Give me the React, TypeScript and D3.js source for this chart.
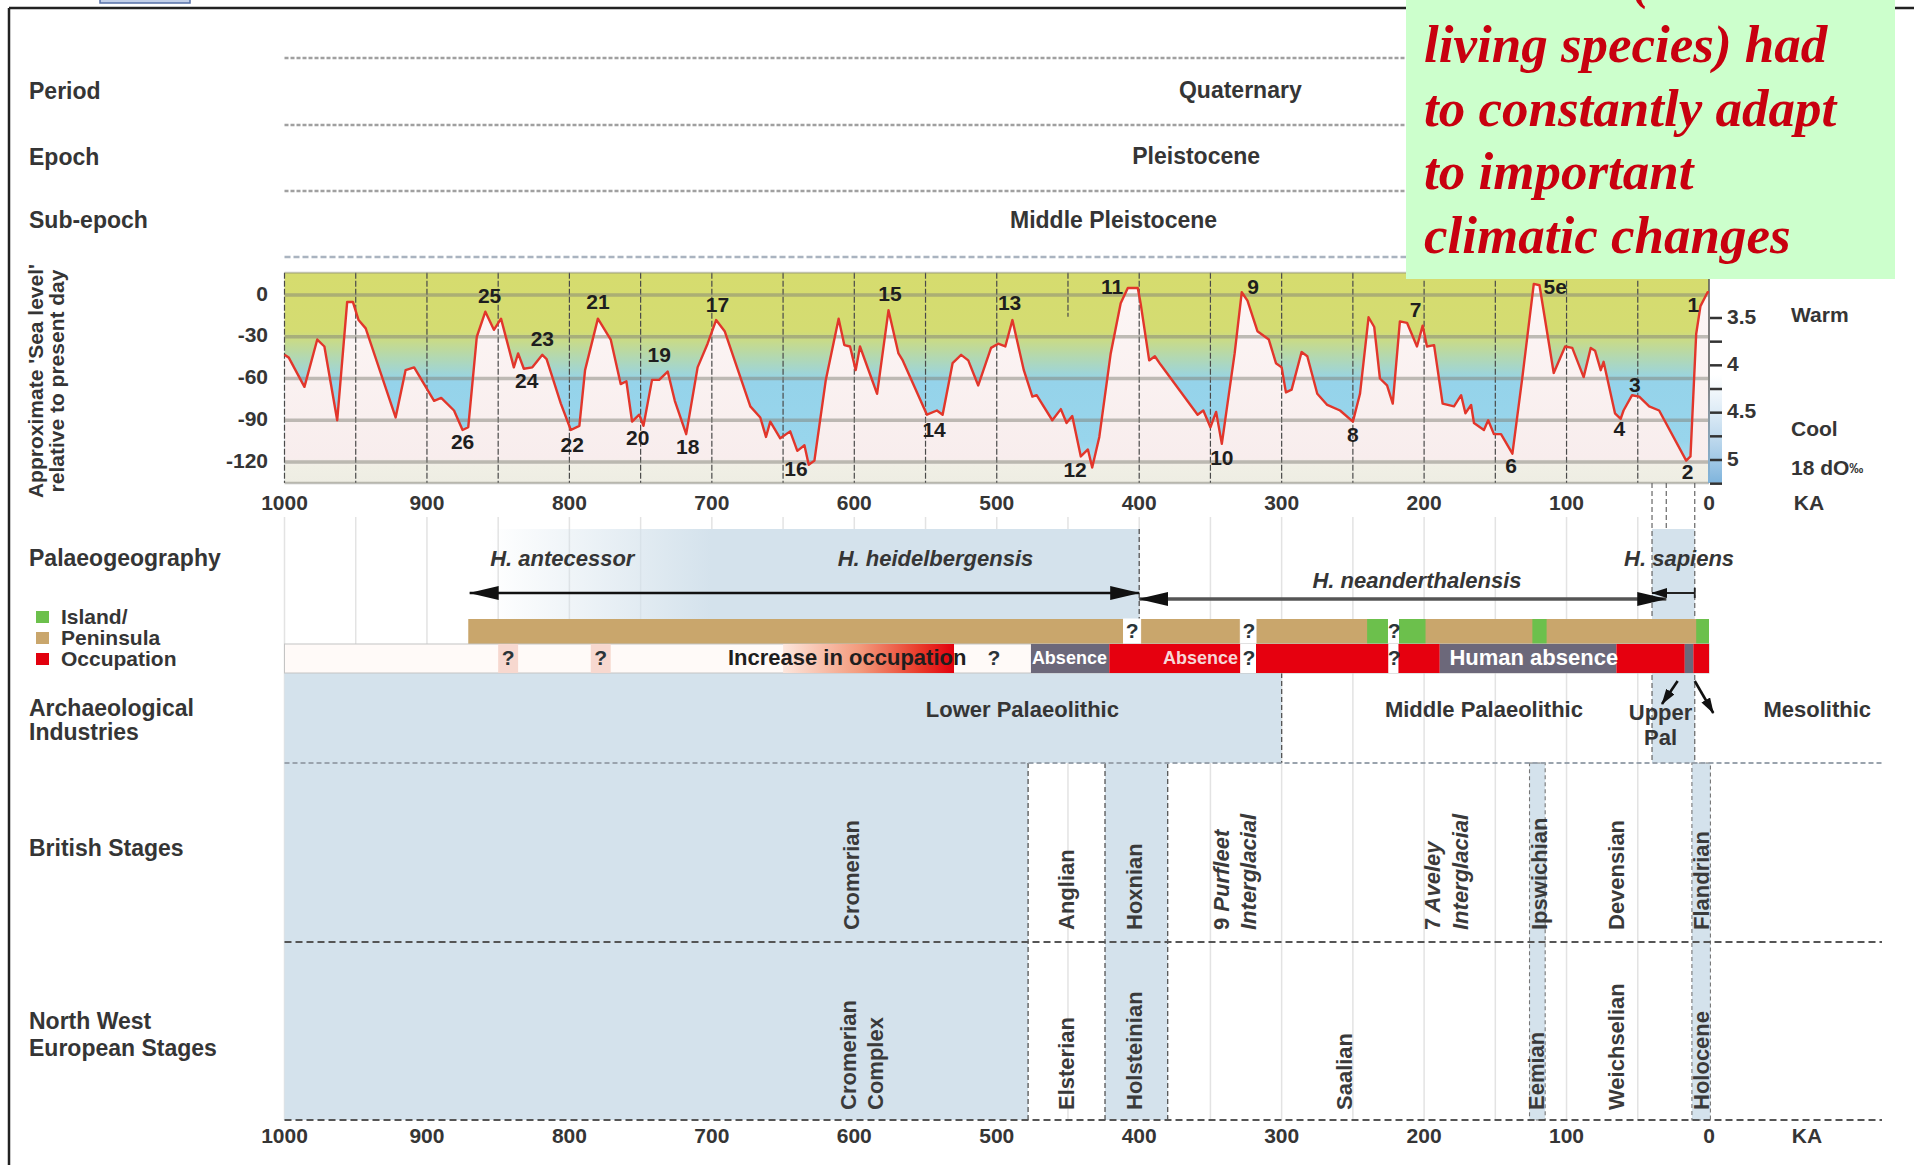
import React from 'react';
import * as d3 from 'd3';

// ---------------- DATA ----------------
// sea level curve: [ka, metres relative to present]
const seaLevel: [number, number][] = [
  [1000,-43],[997,-45],[986,-66],[977,-32],[972,-37],[963,-90],[956,-5],[952,-5],[948,-18],[943,-24],
  [922,-88],[915,-54],[909,-52],[895,-76],[890,-74],[881,-83],[875,-97],[871,-95],[865,-30],[859,-12],
  [853,-25],[848,-17],[839,-52],[836,-42],[832,-53],[826,-52],[819,-43],[816,-46],[806,-78],[799,-97],
  [793,-94],[789,-54],[780,-17],[771,-32],[764,-64],[760,-62],[756,-91],[751,-86],[748,-94],[742,-61],
  [737,-61],[731,-55],[726,-76],[718,-100],[710,-52],[703,-35],[697,-18],[691,-26],[673,-80],[666,-88],
  [662,-102],[659,-91],[652,-103],[645,-98],[640,-112],[635,-108],[632,-122],[628,-119],[620,-61],[611,-17],
  [607,-36],[603,-37],[599,-54],[596,-37],[584,-71],[576,-11],[569,-42],[566,-47],[549,-86],[542,-83],
  [538,-86],[531,-49],[525,-43],[520,-47],[513,-65],[504,-38],[499,-35],[494,-37],[489,-18],[481,-54],
  [475,-73],[472,-72],[461,-90],[455,-82],[451,-92],[447,-87],[441,-116],[436,-111],[433,-124],[428,-102],
  [420,-42],[413,-6],[408,5],[401,5],[399,-6],[393,-47],[389,-44],[385,-50],[359,-86],[355,-83],
  [350,-95],[346,-84],[342,-107],[333,-42],[328,2],[324,-4],[317,-26],[309,-32],[304,-49],[300,-52],
  [297,-70],[293,-68],[286,-41],[282,-44],[275,-71],[268,-79],[259,-83],[250,-91],[245,-71],[239,-16],
  [235,-23],[231,-60],[226,-65],[222,-78],[217,-19],[212,-20],[205,-37],[201,-22],[198,-37],[193,-36],
  [187,-78],[179,-80],[174,-72],[171,-85],[167,-79],[165,-92],[158,-97],[155,-90],[151,-100],[146,-100],
  [138,-114],[131,-59],[123,8],[119,7],[109,-56],[101,-37],[96,-38],[88,-59],[83,-38],[80,-40],
  [76,-54],[74,-48],[66,-85],[62,-89],[60,-83],[54,-72],[49,-73],[42,-80],[35,-83],[16,-119],
  [13,-116],[9,-28],[6,-8],[1,2],[0,2],
];

// marine isotope stage labels: [label, ka, metres]
const misLabels: [string, number, number][] = [
  ['25',856,-2],['23',819,-33],['24',830,-63],['21',780,-6],['19',737,-44],['17',696,-8],
  ['26',875,-107],['22',798,-109],['20',752,-104],['18',717,-110],['16',641,-126],['15',575,0],
  ['14',544,-98],['13',491,-7],['12',445,-127],['11',419,5],['10',342,-118],['9',320,5],
  ['8',250,-102],['7',206,-12],['6',139,-124],['5e',108,5],['4',63,-97],['3',52,-66],
  ['2',15,-128],['1',11,-8],
];

const kaTicks = [1000, 900, 800, 700, 600, 500, 400, 300, 200, 100, 0];
const kaGrid = [1000, 950, 900, 850, 800, 750, 700, 650, 600, 550, 500, 450, 400, 350, 300, 250, 200, 150, 100, 50];
const seaTicks = [0, -30, -60, -90, -120];
const d18Labels = [3.5, 4, 4.5, 5];
const d18Minor = [3.5, 3.75, 4, 4.25, 4.5, 4.75, 5, 5.25];

const timeRows = [
  { label: 'Period', value: 'Quaternary', ka: 329 },
  { label: 'Epoch', value: 'Pleistocene', ka: 360 },
  { label: 'Sub-epoch', value: 'Middle Pleistocene', ka: 418 },
];

const species = [
  { name: 'H. antecessor', ka: 805, row: 0 },
  { name: 'H. heidelbergensis', ka: 543, row: 0 },
  { name: 'H. neanderthalensis', ka: 205, row: 1 },
  { name: 'H. sapiens', ka: 21, row: 0 },
];

// peninsula / island bar: [fromKa, toKa, kind]
const geography: [number, number, string][] = [
  [871, 0, 'peninsula'],
  [240, 225, 'island'], [218, 199, 'island'], [124, 114, 'island'], [9, 0, 'island'],
  [411, 399, 'unknown'], [329, 318, 'unknown'], [225, 218, 'unknown'],
];
const geographyQ = [405, 323, 221];

// occupation bar: [fromKa, toKa, kind]
const occupation: [number, number, string][] = [
  [850, 836, 'doubt'], [785, 771, 'doubt'], [650, 530, 'increase'],
  [476, 421, 'absence'], [421, 329, 'present'], [329, 318, 'unknown'], [318, 225, 'present'],
  [225, 218, 'unknown'], [218, 189, 'present'], [189, 65, 'absence'], [65, 17, 'present'],
  [17, 11, 'absence'], [11, 0, 'present'],
];
const occupationQ = [843, 778, 502, 323, 221];
const occupationTexts: [string, number, string][] = [
  ['Increase in occupation', 605, 'dark'], ['Absence', 449, 'white'],
  ['Absence', 357, 'pale'], ['Human absence', 123, 'white'],
];

const industries = [
  { lines: ['Lower Palaeolithic'], ka: 482 },
  { lines: ['Middle Palaeolithic'], ka: 158 },
  { lines: ['Upper', 'Pal'], ka: 34 },
  { lines: ['Mesolithic'], ka: -76 },
];

const stageBlocks: [number, number][] = [[1000, 478], [424, 380], [126, 115], [12, -1]];
const stageEdges = [478, 424, 380];
const britishStages: { t: string; ka: number; pre?: string }[] = [
  { t: 'Cromerian', ka: 601 }, { t: 'Anglian', ka: 450 }, { t: 'Hoxnian', ka: 402 },
  { t: ' Purfleet', pre: '9', ka: 341 }, { t: 'Interglacial', ka: 322 },
  { t: ' Aveley', pre: '7', ka: 193 }, { t: 'Interglacial', ka: 173 },
  { t: 'Ipswichian', ka: 118 }, { t: 'Devensian', ka: 64 }, { t: 'Flandrian', ka: 4 },
];
const nwStages = [
  { t: 'Cromerian', ka: 603 }, { t: 'Complex', ka: 584 }, { t: 'Elsterian', ka: 450 },
  { t: 'Holsteinian', ka: 402 }, { t: 'Saalian', ka: 255 }, { t: 'Eemian', ka: 120 },
  { t: 'Weichselian', ka: 64 }, { t: 'Holocene', ka: 4 },
];

const legendItems: [string, string][] = [['Island/', '#6cc04c'], ['Peninsula', '#c9a66c'], ['Occupation', '#e2000e']];

const noteLines = ['living species) had', 'to constantly adapt', 'to important', 'climatic changes'];

// ---------------- COMPONENT ----------------
const F = "'Liberation Sans', Arial, Helvetica, sans-serif";
const SERIF = "'Liberation Serif', 'Times New Roman', serif";
const TXT = '#353535';

export default function App() {
  const x = d3.scaleLinear().domain([1000, 0]).range([284.5, 1709]);
  const y = d3.scaleLinear().domain([0, -120]).range([295, 462]);
  const yd = d3.scaleLinear().domain([3.5, 5]).range([318, 460]);
  const plotTop = y(16);
  const plotBottom = y(-135);
  const off = (v: number) => (y(v) - plotTop) / (plotBottom - plotTop);

  const line = d3.line<[number, number]>().x(d => x(d[0])).y(d => y(d[1]));
  const area = d3.area<[number, number]>().x(d => x(d[0])).y0(plotBottom).y1(d => y(d[1]));

  const palTop = 529, tanTop = 619, occTop = 644, occBot = 673, indBot = 763, midLine = 942, botLine = 1120;
  const lineEnd = 1882;

  const rowLabel = (t: string, yy: number, key?: string) => (
    <text key={key || t} x={29} y={yy} fontFamily={F} fontWeight="bold" fontSize={23} fill={TXT} dominantBaseline="middle">{t}</text>
  );

  const geoFill: Record<string, string> = { peninsula: '#c9a66c', island: '#6cc04c', unknown: '#ffffff' };

  return (
    <svg width={1914} height={1165} style={{ position: 'absolute', left: 0, top: 0, background: '#fff' }}>
      <defs>
        <linearGradient id="bg" gradientUnits="userSpaceOnUse" x1={0} y1={plotTop} x2={0} y2={plotBottom}>
          <stop offset={0} stopColor="#d6dc6e" />
          <stop offset={off(-26)} stopColor="#d4dc72" />
          <stop offset={off(-45)} stopColor="#b2d8b2" />
          <stop offset={off(-62)} stopColor="#95d3ea" />
          <stop offset={off(-105)} stopColor="#98d5ec" />
          <stop offset={1} stopColor="#c6e5ef" />
        </linearGradient>
        <linearGradient id="under" gradientUnits="userSpaceOnUse" x1={0} y1={plotTop} x2={0} y2={plotBottom}>
          <stop offset={0} stopColor="#fdf7f6" />
          <stop offset={off(-117)} stopColor="#f8eded" />
          <stop offset={off(-123)} stopColor="#f0efe5" />
          <stop offset={1} stopColor="#eeede3" />
        </linearGradient>
        <linearGradient id="palGrad" gradientUnits="userSpaceOnUse" x1={x(1000)} y1={0} x2={x(400)} y2={0}>
          <stop offset={0} stopColor="#d4e2ec" stopOpacity={0} />
          <stop offset={0.24} stopColor="#d4e2ec" stopOpacity={0} />
          <stop offset={0.5} stopColor="#d4e2ec" stopOpacity={1} />
          <stop offset={1} stopColor="#d4e2ec" stopOpacity={1} />
        </linearGradient>
        <linearGradient id="incGrad" gradientUnits="userSpaceOnUse" x1={x(650)} y1={0} x2={x(530)} y2={0}>
          <stop offset={0} stopColor="#fde6dc" />
          <stop offset={0.45} stopColor="#f39a7c" />
          <stop offset={0.8} stopColor="#e93a2a" />
          <stop offset={1} stopColor="#e2000e" />
        </linearGradient>
        <linearGradient id="d18Grad" x1={0} y1={0} x2={0} y2={1}>
          <stop offset={0} stopColor="#a9cde8" stopOpacity={0} />
          <stop offset={1} stopColor="#7fb4dc" stopOpacity={1} />
        </linearGradient>
        <marker id="ah" viewBox="0 0 30 14" refX={29} refY={7} markerWidth={30} markerHeight={14}
          markerUnits="userSpaceOnUse" orient="auto-start-reverse">
          <path d="M0,0 L30,7 L0,14 z" fill="#111" />
        </marker>
        <marker id="ahs" viewBox="0 0 16 10" refX={15} refY={5} markerWidth={16} markerHeight={10}
          markerUnits="userSpaceOnUse" orient="auto-start-reverse">
          <path d="M0,0 L16,5 L0,10 z" fill="#111" />
        </marker>
      </defs>

      {/* frame */}
      <rect x={100} y={-10} width={90} height={13} fill="#c2cfe8" stroke="#5670a8" strokeWidth={1.5} />
      <line x1={9} y1={8} x2={1914} y2={8} stroke="#222" strokeWidth={2.5} />
      <line x1={9} y1={8} x2={9} y2={1165} stroke="#222" strokeWidth={2.5} />

      {/* time rows */}
      {[58, 125, 191, 257].map((yy, i) => (
        <line key={'td' + i} x1={x(1000)} y1={yy} x2={1410} y2={yy} stroke={i === 3 ? '#aab4c0' : '#a0a0a0'}
          strokeWidth={2.5} strokeDasharray={i === 3 ? '6,3' : '4,2'} />
      ))}
      {timeRows.map((r, i) => (
        <g key={'tr' + i}>
          {rowLabel(r.label, [93, 159, 222][i])}
          <text x={x(r.ka)} y={[92, 158, 222][i]} fontFamily={F} fontWeight="bold" fontSize={23} fill={TXT}
            textAnchor="middle" dominantBaseline="middle">{r.value}</text>
        </g>
      ))}

      {/* sea-level panel */}
      <rect x={x(1000)} y={plotTop} width={x(0) - x(1000)} height={plotBottom - plotTop} fill="url(#bg)" />
      <path d={area(seaLevel) || ''} fill="url(#under)" />
      {kaGrid.map(k => (
        <line key={'vg' + k} x1={x(k)} x2={x(k)} y1={plotTop} y2={k === 450 ? plotTop + 44 : plotBottom}
          stroke="#4a4a4a" strokeWidth={1.2} strokeDasharray="6,2" />
      ))}
      <line x1={x(0)} x2={x(0)} y1={plotTop} y2={plotBottom} stroke="#555" strokeWidth={1.5} />
      {seaTicks.map(v => (
        <line key={'hg' + v} x1={x(1000)} x2={x(0)} y1={y(v)} y2={y(v)} stroke="rgba(130,130,120,0.5)" strokeWidth={3.5} />
      ))}
      <line x1={x(1000)} x2={x(0)} y1={plotTop} y2={plotTop} stroke="rgba(130,130,120,0.45)" strokeWidth={2} />
      <line x1={x(1000)} x2={x(0)} y1={plotBottom} y2={plotBottom} stroke="rgba(130,130,120,0.5)" strokeWidth={2.5} />
      <path d={line(seaLevel) || ''} fill="none" stroke="#e2362b" strokeWidth={2.4} strokeLinejoin="round" />
      {misLabels.map(([t, k, v]) => (
        <text key={'mis' + t} x={x(k)} y={y(v)} fontFamily={F} fontWeight="bold" fontSize={21} fill="#1e1e1e"
          textAnchor="middle" dominantBaseline="middle">{t}</text>
      ))}
      {seaTicks.map(v => (
        <text key={'yt' + v} x={268} y={y(v)} fontFamily={F} fontWeight="bold" fontSize={21} fill={TXT}
          textAnchor="end" dominantBaseline="middle">{v}</text>
      ))}
      <text transform={`translate(37,381) rotate(-90)`} fontFamily={F} fontWeight="bold" fontSize={21} fill={TXT}
        textAnchor="middle" dominantBaseline="middle">Approximate 'Sea level'</text>
      <text transform={`translate(58,381) rotate(-90)`} fontFamily={F} fontWeight="bold" fontSize={21} fill={TXT}
        textAnchor="middle" dominantBaseline="middle">relative to present day</text>

      {/* d18O axis */}
      <rect x={x(0) - 1} y={yd(4.1)} width={14} height={plotBottom - yd(4.1)} fill="url(#d18Grad)" />
      {d18Minor.map(v => (
        <line key={'dm' + v} x1={x(0) + 1} x2={x(0) + 13} y1={yd(v)} y2={yd(v)} stroke="#333" strokeWidth={2.5} />
      ))}
      {d18Labels.map(v => (
        <text key={'dl' + v} x={1727} y={yd(v)} fontFamily={F} fontWeight="bold" fontSize={21} fill={TXT}
          dominantBaseline="middle">{v}</text>
      ))}
      <text x={1791} y={316} fontFamily={F} fontWeight="bold" fontSize={21} fill={TXT} dominantBaseline="middle">Warm</text>
      <text x={1791} y={430} fontFamily={F} fontWeight="bold" fontSize={21} fill={TXT} dominantBaseline="middle">Cool</text>
      <text x={1791} y={469} fontFamily={F} fontWeight="bold" fontSize={21} fill={TXT} dominantBaseline="middle">
        18 dO<tspan fontSize={14}>‰</tspan>
      </text>

      {/* top x axis */}
      {kaTicks.map(k => (
        <text key={'xt' + k} x={x(k)} y={504} fontFamily={F} fontWeight="bold" fontSize={21} fill={TXT}
          textAnchor="middle" dominantBaseline="middle">{k}</text>
      ))}
      <text x={1809} y={504} fontFamily={F} fontWeight="bold" fontSize={21} fill={TXT} textAnchor="middle" dominantBaseline="middle">KA</text>

      {/* light grid in lower panels */}
      {kaGrid.map(k => (
        <line key={'lg' + k} x1={x(k)} x2={x(k)} y1={517} y2={botLine} stroke="#e3e3e3" strokeWidth={1.5} />
      ))}

      {/* palaeogeography */}
      <rect x={x(1000)} y={palTop} width={x(400) - x(1000)} height={occTop - palTop} fill="url(#palGrad)" />
      <rect x={x(1000)} y={occBot} width={x(300) - x(1000)} height={indBot - occBot} fill="#d4e2ec" />
      <rect x={x(40)} y={palTop} width={x(10) - x(40)} height={indBot - palTop} fill="#d4e2ec" />
      {[40, 30, 10].map(k => (
        <line key={'sp' + k} x1={x(k)} x2={x(k)} y1={plotBottom} y2={k === 30 ? palTop : indBot}
          stroke="#666" strokeWidth={1.2} strokeDasharray="5,3" />
      ))}
      <line x1={x(400)} x2={x(400)} y1={palTop} y2={occTop} stroke="#555" strokeWidth={1.3} strokeDasharray="5,3" />
      <line x1={x(300)} x2={x(300)} y1={occBot} y2={indBot} stroke="#555" strokeWidth={1.3} strokeDasharray="5,3" />

      {rowLabel('Palaeogeography', 560)}
      {legendItems.map(([t, c], i) => (
        <g key={'leg' + t}>
          <rect x={36} y={611 + i * 21} width={13} height={12} fill={c} />
          <text x={61} y={618 + i * 21} fontFamily={F} fontWeight="bold" fontSize={21} fill={TXT} dominantBaseline="middle">{t}</text>
        </g>
      ))}
      {species.map(s => (
        <text key={s.name} x={x(s.ka)} y={s.row === 0 ? 560 : 582} fontFamily={F} fontWeight="bold" fontStyle="italic"
          fontSize={22} fill={TXT} textAnchor="middle" dominantBaseline="middle">{s.name}</text>
      ))}
      <line x1={x(870)} x2={x(400)} y1={593} y2={593} stroke="#111" strokeWidth={2.5} markerStart="url(#ah)" markerEnd="url(#ah)" />
      <line x1={x(400)} x2={x(30)} y1={599} y2={599} stroke="#555" strokeWidth={3.5} markerStart="url(#ah)" markerEnd="url(#ah)" />
      <line x1={x(40)} x2={x(10)} y1={593} y2={593} stroke="#222" strokeWidth={1.8} markerStart="url(#ahs)" />
      <line x1={x(10)} x2={x(10)} y1={588} y2={598} stroke="#222" strokeWidth={1.8} />

      {/* geography bar */}
      {geography.map(([a, b, k], i) => (
        <rect key={'geo' + i} x={x(a)} y={tanTop} width={x(b) - x(a)} height={occTop - tanTop}
          fill={geoFill[k]} stroke={k === 'unknown' ? '#fff' : 'none'} />
      ))}
      {geographyQ.map(k => (
        <text key={'gq' + k} x={x(k)} y={(tanTop + occTop) / 2 + 1} fontFamily={F} fontWeight="bold" fontSize={21}
          fill="#2a3438" textAnchor="middle" dominantBaseline="middle">?</text>
      ))}

      {/* occupation bar */}
      <rect x={x(1000)} y={occTop} width={x(0) - x(1000)} height={occBot - occTop} fill="#fffaf8" stroke="#c4c4c4" strokeWidth={1} />
      {occupation.map(([a, b, k], i) => {
        const fill = k === 'doubt' ? '#f7d8cf' : k === 'increase' ? 'url(#incGrad)' : k === 'absence' ? '#6c687a'
          : k === 'present' ? '#e6000f' : '#ffffff';
        return <rect key={'occ' + i} x={x(a)} y={occTop} width={x(b) - x(a)} height={occBot - occTop} fill={fill} />;
      })}
      {occupationTexts.map(([t, k, c], i) => (
        <text key={'ot' + i} x={x(k)} y={(occTop + occBot) / 2 + 1} fontFamily={F} fontWeight="bold"
          fontSize={t === 'Absence' ? 18 : 22} fill={c === 'dark' ? '#1e1e1e' : c === 'pale' ? '#f6d6d6' : '#ffffff'}
          textAnchor="middle" dominantBaseline="middle">{t}</text>
      ))}
      {occupationQ.map(k => (
        <text key={'oq' + k} x={x(k)} y={(occTop + occBot) / 2 + 1} fontFamily={F} fontWeight="bold" fontSize={21}
          fill="#2a3438" textAnchor="middle" dominantBaseline="middle">?</text>
      ))}
      <line x1={x(22)} y1={681} x2={x(33)} y2={704} stroke="#111" strokeWidth={2.6} markerEnd="url(#ahs)" />
      <line x1={x(10)} y1={681} x2={x(-3)} y2={713} stroke="#111" strokeWidth={2.6} markerEnd="url(#ahs)" />

      {/* industries */}
      {rowLabel('Archaeological', 710, 'arch')}
      {rowLabel('Industries', 734, 'ind')}
      {industries.map((d, i) => d.lines.map((l, j) => (
        <text key={'in' + i + j} x={x(d.ka)} y={(d.lines.length > 1 ? 714 : 711) + j * 25} fontFamily={F} fontWeight="bold"
          fontSize={22} fill={TXT} textAnchor="middle" dominantBaseline="middle">{l}</text>
      )))}

      {/* stages */}
      {stageBlocks.map(([a, b], i) => (
        <rect key={'sb' + i} x={x(a)} y={indBot} width={x(b) - x(a)} height={botLine - indBot} fill="#d4e2ec"
          stroke={i >= 2 ? '#777' : 'none'} strokeDasharray="4,3" strokeWidth={1.1} />
      ))}
      {stageEdges.map(k => (
        <line key={'se' + k} x1={x(k)} x2={x(k)} y1={indBot} y2={botLine} stroke="#555" strokeWidth={1.3} strokeDasharray="5,3" />
      ))}
      <line x1={x(1000)} x2={lineEnd} y1={indBot} y2={indBot} stroke="#9aa3ad" strokeWidth={2.2} strokeDasharray="5,3" />
      <line x1={x(1000)} x2={lineEnd} y1={midLine} y2={midLine} stroke="#555" strokeWidth={1.8} strokeDasharray="7,4" />
      <line x1={x(1000)} x2={lineEnd} y1={botLine} y2={botLine} stroke="#555" strokeWidth={1.8} strokeDasharray="7,4" />
      {rowLabel('British Stages', 850, 'brit')}
      {rowLabel('North West', 1023, 'nw1')}
      {rowLabel('European Stages', 1050, 'nw2')}
      {britishStages.map((s, i) => (
        <text key={'bs' + i} transform={`translate(${x(s.ka)},930) rotate(-90)`} fontFamily={F} fontWeight="bold"
          fontSize={22} fill="#3a3a3a" dominantBaseline="middle"
          fontStyle={s.pre || s.t === 'Interglacial' ? 'italic' : 'normal'}>
          {s.pre ? <tspan fontStyle="normal">{s.pre}</tspan> : null}{s.t}
        </text>
      ))}
      {nwStages.map((s, i) => (
        <text key={'ns' + i} transform={`translate(${x(s.ka)},1110) rotate(-90)`} fontFamily={F} fontWeight="bold"
          fontSize={22} fill="#3a3a3a" dominantBaseline="middle">{s.t}</text>
      ))}

      {/* bottom axis */}
      {kaTicks.map(k => (
        <text key={'bt' + k} x={x(k)} y={1137} fontFamily={F} fontWeight="bold" fontSize={21} fill={TXT}
          textAnchor="middle" dominantBaseline="middle">{k}</text>
      ))}
      <text x={1807} y={1137} fontFamily={F} fontWeight="bold" fontSize={21} fill={TXT} textAnchor="middle" dominantBaseline="middle">KA</text>

      {/* note box */}
      <rect x={1406} y={-5} width={489} height={284} fill="#ccffcc" />
      <text x={1632} y={-2} fontFamily={SERIF} fontWeight="bold" fontStyle="italic" fontSize={53} fill="#c8000f">(</text>
      {noteLines.map((t, i) => (
        <text key={'nl' + i} x={1424} y={62 + i * 63.7} fontFamily={SERIF} fontWeight="bold" fontStyle="italic"
          fontSize={53} fill="#c8000f">{t}</text>
      ))}
    </svg>
  );
}
